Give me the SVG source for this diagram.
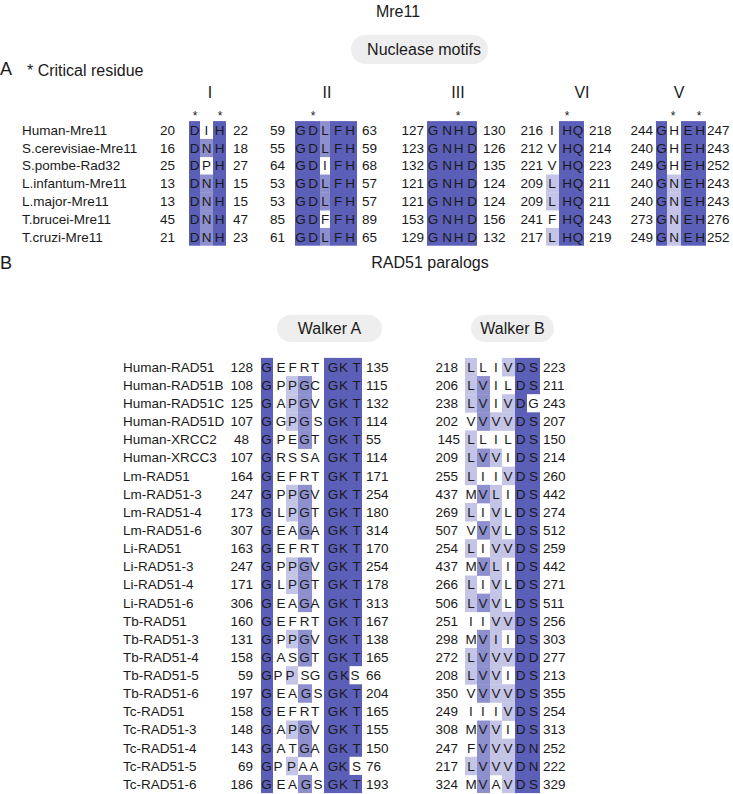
<svg xmlns="http://www.w3.org/2000/svg" width="733" height="794" viewBox="0 0 733 794">
<style>
text{font-family:"Liberation Sans",Arial,sans-serif;fill:#1a1a1a}
.lab{font-size:13.5px}
.n{font-size:13.5px}
.e{text-anchor:end}
.r{font-size:13.5px;text-anchor:middle}
.t{font-size:16px;text-anchor:middle}
.ast{font-size:12px;text-anchor:middle}
.big{font-size:18px}
.d{fill:#5b5fb7}
.m{fill:#8e90ce}
.l{fill:#c4c5e6}
.w{fill:#ffffff}
.pill{fill:#eeeeee}
</style>
<rect width="733" height="794" fill="#ffffff"/>

<g id="title">
<text class="t" x="398" y="17">Mre11</text>
<rect class="pill" x="351" y="35" width="137" height="29" rx="14.5"/>
<text class="t" x="424" y="54.7">Nuclease motifs</text>
<text class="big" x="0" y="75">A</text>
<text style="font-size:16px" x="27" y="76">* Critical residue</text>
</g>

<g id="motif-headers">
<text class="t" x="210" y="97.7">I</text>
<text class="t" x="327" y="97.7">II</text>
<text class="t" x="458" y="97.7">III</text>
<text class="t" x="582" y="97.7">VI</text>
<text class="t" x="679" y="97.7">V</text>
<text class="ast" x="195" y="120">*</text>
<text class="ast" x="220" y="120">*</text>
<text class="ast" x="313" y="120">*</text>
<text class="ast" x="458" y="120">*</text>
<text class="ast" x="567" y="120">*</text>
<text class="ast" x="673" y="120">*</text>
<text class="ast" x="699" y="120">*</text>
</g>

<g id="a-columns">
<rect class="d" x="189" y="121.1" width="11" height="124.6"/>
<rect class="d" x="213" y="121.1" width="13" height="124.6"/>
<rect class="d" x="295" y="121.1" width="25" height="124.6"/>
<rect class="d" x="330" y="121.1" width="27" height="124.6"/>
<rect class="d" x="427" y="121.1" width="50" height="124.6"/>
<rect class="d" x="559" y="121.1" width="25" height="124.6"/>
<rect class="d" x="656" y="121.1" width="11" height="124.6"/>
<rect class="d" x="681" y="121.1" width="25" height="124.6"/>
</g>

<g id="a-human" transform="translate(0,130)">
<rect class="m" x="320" y="-8.9" width="10" height="18.2"/>
<text class="lab" x="22" y="4.8">Human-Mre11</text>
<text class="n e" x="175" y="4.8">20</text><text class="r" x="194.5 200.5 206.5 213 219.5" y="4.8">D I H</text><text class="n" x="233" y="4.8">22</text>
<text class="n e" x="285" y="4.8">59</text><text class="r" x="300.5 307 313 319 325 331.5 338 344 350" y="4.8">G D L F H</text><text class="n" x="362" y="4.8">63</text>
<text class="n e" x="424" y="4.8">127</text><text class="r" x="433 440 447 453 458.5 465 472" y="4.8">G N H D</text><text class="n" x="483" y="4.8">130</text>
<text class="n e" x="543" y="4.8">216</text><text class="r" x="552 559.5 567 572.5 578" y="4.8">I H Q</text><text class="n" x="589" y="4.8">218</text>
<text class="n e" x="653" y="4.8">244</text><text class="r" x="661.5 668 674 681 688 694 700" y="4.8">G H E H</text><text class="n" x="707" y="4.8">247</text>
</g>
<g id="a-scerevisiae" transform="translate(0,147.8)">
<rect class="m" x="200" y="-8.9" width="13" height="18.2"/>
<rect class="m" x="320" y="-8.9" width="10" height="18.2"/>
<text class="lab" x="22" y="4.8">S.cerevisiae-Mre11</text>
<text class="n e" x="175" y="4.8">16</text><text class="r" x="194.5 200.5 206.5 213 219.5" y="4.8">D N H</text><text class="n" x="233" y="4.8">18</text>
<text class="n e" x="285" y="4.8">55</text><text class="r" x="300.5 307 313 319 325 331.5 338 344 350" y="4.8">G D L F H</text><text class="n" x="362" y="4.8">59</text>
<text class="n e" x="424" y="4.8">123</text><text class="r" x="433 440 447 453 458.5 465 472" y="4.8">G N H D</text><text class="n" x="483" y="4.8">126</text>
<text class="n e" x="543" y="4.8">212</text><text class="r" x="552 559.5 567 572.5 578" y="4.8">V H Q</text><text class="n" x="589" y="4.8">214</text>
<text class="n e" x="653" y="4.8">240</text><text class="r" x="661.5 668 674 681 688 694 700" y="4.8">G H E H</text><text class="n" x="707" y="4.8">243</text>
</g>
<g id="a-spombe" transform="translate(0,165.6)">
<text class="lab" x="22" y="4.8">S.pombe-Rad32</text>
<text class="n e" x="175" y="4.8">25</text><text class="r" x="194.5 200.5 206.5 213 219.5" y="4.8">D P H</text><text class="n" x="233" y="4.8">27</text>
<text class="n e" x="285" y="4.8">64</text><text class="r" x="300.5 307 313 319 325 331.5 338 344 350" y="4.8">G D I F H</text><text class="n" x="362" y="4.8">68</text>
<text class="n e" x="424" y="4.8">132</text><text class="r" x="433 440 447 453 458.5 465 472" y="4.8">G N H D</text><text class="n" x="483" y="4.8">135</text>
<text class="n e" x="543" y="4.8">221</text><text class="r" x="552 559.5 567 572.5 578" y="4.8">V H Q</text><text class="n" x="589" y="4.8">223</text>
<text class="n e" x="653" y="4.8">249</text><text class="r" x="661.5 668 674 681 688 694 700" y="4.8">G H E H</text><text class="n" x="707" y="4.8">252</text>
</g>
<g id="a-linfantum" transform="translate(0,183.4)">
<rect class="m" x="200" y="-8.9" width="13" height="18.2"/>
<rect class="m" x="320" y="-8.9" width="10" height="18.2"/>
<rect class="l" x="546" y="-8.9" width="13" height="18.2"/>
<rect class="l" x="667" y="-8.9" width="14" height="18.2"/>
<text class="lab" x="22" y="4.8">L.infantum-Mre11</text>
<text class="n e" x="175" y="4.8">13</text><text class="r" x="194.5 200.5 206.5 213 219.5" y="4.8">D N H</text><text class="n" x="233" y="4.8">15</text>
<text class="n e" x="285" y="4.8">53</text><text class="r" x="300.5 307 313 319 325 331.5 338 344 350" y="4.8">G D L F H</text><text class="n" x="362" y="4.8">57</text>
<text class="n e" x="424" y="4.8">121</text><text class="r" x="433 440 447 453 458.5 465 472" y="4.8">G N H D</text><text class="n" x="483" y="4.8">124</text>
<text class="n e" x="543" y="4.8">209</text><text class="r" x="552 559.5 567 572.5 578" y="4.8">L H Q</text><text class="n" x="589" y="4.8">211</text>
<text class="n e" x="653" y="4.8">240</text><text class="r" x="661.5 668 674 681 688 694 700" y="4.8">G N E H</text><text class="n" x="707" y="4.8">243</text>
</g>
<g id="a-lmajor" transform="translate(0,201.2)">
<rect class="m" x="200" y="-8.9" width="13" height="18.2"/>
<rect class="m" x="320" y="-8.9" width="10" height="18.2"/>
<rect class="l" x="546" y="-8.9" width="13" height="18.2"/>
<rect class="l" x="667" y="-8.9" width="14" height="18.2"/>
<text class="lab" x="22" y="4.8">L.major-Mre11</text>
<text class="n e" x="175" y="4.8">13</text><text class="r" x="194.5 200.5 206.5 213 219.5" y="4.8">D N H</text><text class="n" x="233" y="4.8">15</text>
<text class="n e" x="285" y="4.8">53</text><text class="r" x="300.5 307 313 319 325 331.5 338 344 350" y="4.8">G D L F H</text><text class="n" x="362" y="4.8">57</text>
<text class="n e" x="424" y="4.8">121</text><text class="r" x="433 440 447 453 458.5 465 472" y="4.8">G N H D</text><text class="n" x="483" y="4.8">124</text>
<text class="n e" x="543" y="4.8">209</text><text class="r" x="552 559.5 567 572.5 578" y="4.8">L H Q</text><text class="n" x="589" y="4.8">211</text>
<text class="n e" x="653" y="4.8">240</text><text class="r" x="661.5 668 674 681 688 694 700" y="4.8">G N E H</text><text class="n" x="707" y="4.8">243</text>
</g>
<g id="a-tbrucei" transform="translate(0,219)">
<rect class="m" x="200" y="-8.9" width="13" height="18.2"/>
<rect class="l" x="667" y="-8.9" width="14" height="18.2"/>
<text class="lab" x="22" y="4.8">T.brucei-Mre11</text>
<text class="n e" x="175" y="4.8">45</text><text class="r" x="194.5 200.5 206.5 213 219.5" y="4.8">D N H</text><text class="n" x="233" y="4.8">47</text>
<text class="n e" x="285" y="4.8">85</text><text class="r" x="300.5 307 313 319 325 331.5 338 344 350" y="4.8">G D F F H</text><text class="n" x="362" y="4.8">89</text>
<text class="n e" x="424" y="4.8">153</text><text class="r" x="433 440 447 453 458.5 465 472" y="4.8">G N H D</text><text class="n" x="483" y="4.8">156</text>
<text class="n e" x="543" y="4.8">241</text><text class="r" x="552 559.5 567 572.5 578" y="4.8">F H Q</text><text class="n" x="589" y="4.8">243</text>
<text class="n e" x="653" y="4.8">273</text><text class="r" x="661.5 668 674 681 688 694 700" y="4.8">G N E H</text><text class="n" x="707" y="4.8">276</text>
</g>
<g id="a-tcruzi" transform="translate(0,236.8)">
<rect class="m" x="200" y="-8.9" width="13" height="17.8"/>
<rect class="m" x="320" y="-8.9" width="10" height="17.8"/>
<rect class="l" x="546" y="-8.9" width="13" height="17.8"/>
<rect class="l" x="667" y="-8.9" width="14" height="17.8"/>
<text class="lab" x="22" y="4.8">T.cruzi-Mre11</text>
<text class="n e" x="175" y="4.8">21</text><text class="r" x="194.5 200.5 206.5 213 219.5" y="4.8">D N H</text><text class="n" x="233" y="4.8">23</text>
<text class="n e" x="285" y="4.8">61</text><text class="r" x="300.5 307 313 319 325 331.5 338 344 350" y="4.8">G D L F H</text><text class="n" x="362" y="4.8">65</text>
<text class="n e" x="424" y="4.8">129</text><text class="r" x="433 440 447 453 458.5 465 472" y="4.8">G N H D</text><text class="n" x="483" y="4.8">132</text>
<text class="n e" x="543" y="4.8">217</text><text class="r" x="552 559.5 567 572.5 578" y="4.8">L H Q</text><text class="n" x="589" y="4.8">219</text>
<text class="n e" x="653" y="4.8">249</text><text class="r" x="661.5 668 674 681 688 694 700" y="4.8">G N E H</text><text class="n" x="707" y="4.8">252</text>
</g>

<g id="b-title">
<text class="big" x="0" y="269">B</text>
<text class="t" x="430" y="268">RAD51 paralogs</text>
<rect class="pill" x="277" y="315" width="105" height="27" rx="13.5"/>
<text class="t" x="329.5" y="334.3">Walker A</text>
<rect class="pill" x="471" y="315" width="83" height="27" rx="13.5"/>
<text class="t" x="512.5" y="334.3">Walker B</text>
</g>

<g id="b-columns">
<rect class="d" x="261" y="357.9" width="12" height="435.2"/>
<rect class="d" x="324" y="357.9" width="38" height="435.2"/>
<rect class="d" x="515" y="357.9" width="25" height="435.2"/>
</g>

<g id="b-row-0" transform="translate(0,367)">
<rect class="l" x="465" y="-9.07" width="12" height="18.5"/><rect class="l" x="502" y="-9.07" width="13" height="18.5"/>
<text class="lab" x="123" y="4.8">Human-RAD51</text><text class="n e" x="253" y="4.8">128</text>
<text class="r" x="266.5 274 281 287 292.5 298.5 304.5 310 315 324 333 338 343.5 350 356.5" y="4.8">G E F R T G K T</text><text class="n" x="366" y="4.8">135</text>
<text class="n e" x="458" y="4.8">218</text><text class="r" x="471 477 483 489.5 496 502 508 514 520.5 527 533.5" y="4.8">L L I V D S</text><text class="n" x="543" y="4.8">223</text>
</g>
<g id="b-row-1" transform="translate(0,385.13)">
<rect class="l" x="286" y="-9.07" width="12" height="18.5"/><rect class="m" x="298" y="-9.07" width="14" height="18.5"/>
<rect class="l" x="465" y="-9.07" width="12" height="18.5"/><rect class="m" x="477" y="-9.07" width="13" height="18.5"/>
<text class="lab" x="123" y="4.8">Human-RAD51B</text><text class="n e" x="253" y="4.8">108</text>
<text class="r" x="266.5 274 281 287 292.5 298.5 304.5 310 315 324 333 338 343.5 350 356.5" y="4.8">G P P G C G K T</text><text class="n" x="366" y="4.8">115</text>
<text class="n e" x="458" y="4.8">206</text><text class="r" x="471 477 483 489.5 496 502 508 514 520.5 527 533.5" y="4.8">L V I L D S</text><text class="n" x="543" y="4.8">211</text>
</g>
<g id="b-row-2" transform="translate(0,403.26)">
<rect class="l" x="286" y="-9.07" width="12" height="18.5"/><rect class="m" x="298" y="-9.07" width="14" height="18.5"/>
<rect class="l" x="465" y="-9.07" width="12" height="18.5"/><rect class="m" x="477" y="-9.07" width="13" height="18.5"/><rect class="l" x="502" y="-9.07" width="13" height="18.5"/><rect class="w" x="527" y="-9.07" width="13" height="18.13"/>
<text class="lab" x="123" y="4.8">Human-RAD51C</text><text class="n e" x="253" y="4.8">125</text>
<text class="r" x="266.5 274 281 287 292.5 298.5 304.5 310 315 324 333 338 343.5 350 356.5" y="4.8">G A P G V G K T</text><text class="n" x="366" y="4.8">132</text>
<text class="n e" x="458" y="4.8">238</text><text class="r" x="471 477 483 489.5 496 502 508 514 520.5 527 533.5" y="4.8">L V I V D G</text><text class="n" x="543" y="4.8">243</text>
</g>
<g id="b-row-3" transform="translate(0,421.39)">
<rect class="l" x="286" y="-9.07" width="12" height="18.5"/><rect class="m" x="298" y="-9.07" width="14" height="18.5"/>
<rect class="m" x="477" y="-9.07" width="13" height="18.5"/><rect class="l" x="490" y="-9.07" width="12" height="18.5"/><rect class="l" x="502" y="-9.07" width="13" height="18.5"/>
<text class="lab" x="123" y="4.8">Human-RAD51D</text><text class="n e" x="253" y="4.8">107</text>
<text class="r" x="266.5 274 281 287 292.5 298.5 304.5 310 318 324 333 338 343.5 350 356.5" y="4.8">G G P G S G K T</text><text class="n" x="366" y="4.8">114</text>
<text class="n e" x="458" y="4.8">202</text><text class="r" x="471 477 483 489.5 496 502 508 514 520.5 527 533.5" y="4.8">V V V V D S</text><text class="n" x="543" y="4.8">207</text>
</g>
<g id="b-row-4" transform="translate(0,439.52)">
<rect class="m" x="298" y="-9.07" width="14" height="18.5"/>
<rect class="l" x="465" y="-9.07" width="12" height="18.5"/>
<text class="lab" x="123" y="4.8">Human-XRCC2</text><text class="n e" x="249" y="4.8">48</text>
<text class="r" x="266.5 274 281 287 292.5 298.5 304.5 310 315 324 333 338 343.5 350 356.5" y="4.8">G P E G T G K T</text><text class="n" x="366" y="4.8">55</text>
<text class="n e" x="460" y="4.8">145</text><text class="r" x="471 477 483 489.5 496 502 508 514 520.5 527 533.5" y="4.8">L L I L D S</text><text class="n" x="543" y="4.8">150</text>
</g>
<g id="b-row-5" transform="translate(0,457.65)">
<rect class="l" x="465" y="-9.07" width="12" height="18.5"/><rect class="m" x="477" y="-9.07" width="13" height="18.5"/><rect class="l" x="490" y="-9.07" width="12" height="18.5"/>
<text class="lab" x="123" y="4.8">Human-XRCC3</text><text class="n e" x="253" y="4.8">107</text>
<text class="r" x="266.5 274 281 287 292.5 298.5 304.5 310 315 324 333 338 343.5 350 356.5" y="4.8">G R S S A G K T</text><text class="n" x="366" y="4.8">114</text>
<text class="n e" x="458" y="4.8">209</text><text class="r" x="471 477 483 489.5 496 502 508 514 520.5 527 533.5" y="4.8">L V V I D S</text><text class="n" x="543" y="4.8">214</text>
</g>
<g id="b-row-6" transform="translate(0,475.78)">
<rect class="l" x="465" y="-9.07" width="12" height="18.5"/><rect class="l" x="502" y="-9.07" width="13" height="18.5"/>
<text class="lab" x="123" y="4.8">Lm-RAD51</text><text class="n e" x="253" y="4.8">164</text>
<text class="r" x="266.5 274 281 287 292.5 298.5 304.5 310 315 324 333 338 343.5 350 356.5" y="4.8">G E F R T G K T</text><text class="n" x="366" y="4.8">171</text>
<text class="n e" x="458" y="4.8">255</text><text class="r" x="471 477 483 489.5 496 502 508 514 520.5 527 533.5" y="4.8">L I I V D S</text><text class="n" x="543" y="4.8">260</text>
</g>
<g id="b-row-7" transform="translate(0,493.91)">
<rect class="l" x="286" y="-9.07" width="12" height="18.5"/><rect class="m" x="298" y="-9.07" width="14" height="18.5"/>
<rect class="m" x="477" y="-9.07" width="13" height="18.5"/><rect class="l" x="490" y="-9.07" width="12" height="18.5"/>
<text class="lab" x="123" y="4.8">Lm-RAD51-3</text><text class="n e" x="253" y="4.8">247</text>
<text class="r" x="266.5 274 281 287 292.5 298.5 304.5 310 315 324 333 338 343.5 350 356.5" y="4.8">G P P G V G K T</text><text class="n" x="366" y="4.8">254</text>
<text class="n e" x="458" y="4.8">437</text><text class="r" x="471 477 483 489.5 496 502 508 514 520.5 527 533.5" y="4.8">M V L I D S</text><text class="n" x="543" y="4.8">442</text>
</g>
<g id="b-row-8" transform="translate(0,512.04)">
<rect class="l" x="286" y="-9.07" width="12" height="18.5"/><rect class="m" x="298" y="-9.07" width="14" height="18.5"/>
<rect class="l" x="465" y="-9.07" width="12" height="18.5"/><rect class="l" x="490" y="-9.07" width="12" height="18.5"/>
<text class="lab" x="123" y="4.8">Lm-RAD51-4</text><text class="n e" x="253" y="4.8">173</text>
<text class="r" x="266.5 274 281 287 292.5 298.5 304.5 310 315 324 333 338 343.5 350 356.5" y="4.8">G L P G T G K T</text><text class="n" x="366" y="4.8">180</text>
<text class="n e" x="458" y="4.8">269</text><text class="r" x="471 477 483 489.5 496 502 508 514 520.5 527 533.5" y="4.8">L I V L D S</text><text class="n" x="543" y="4.8">274</text>
</g>
<g id="b-row-9" transform="translate(0,530.17)">
<rect class="m" x="298" y="-9.07" width="14" height="18.5"/>
<rect class="m" x="477" y="-9.07" width="13" height="18.5"/><rect class="l" x="490" y="-9.07" width="12" height="18.5"/>
<text class="lab" x="123" y="4.8">Lm-RAD51-6</text><text class="n e" x="253" y="4.8">307</text>
<text class="r" x="266.5 274 281 287 292.5 298.5 304.5 310 315 324 333 338 343.5 350 356.5" y="4.8">G E A G A G K T</text><text class="n" x="366" y="4.8">314</text>
<text class="n e" x="458" y="4.8">507</text><text class="r" x="471 477 483 489.5 496 502 508 514 520.5 527 533.5" y="4.8">V V V L D S</text><text class="n" x="543" y="4.8">512</text>
</g>
<g id="b-row-10" transform="translate(0,548.3)">
<rect class="l" x="465" y="-9.07" width="12" height="18.5"/><rect class="l" x="490" y="-9.07" width="12" height="18.5"/><rect class="l" x="502" y="-9.07" width="13" height="18.5"/>
<text class="lab" x="123" y="4.8">Li-RAD51</text><text class="n e" x="253" y="4.8">163</text>
<text class="r" x="266.5 274 281 287 292.5 298.5 304.5 310 315 324 333 338 343.5 350 356.5" y="4.8">G E F R T G K T</text><text class="n" x="366" y="4.8">170</text>
<text class="n e" x="458" y="4.8">254</text><text class="r" x="471 477 483 489.5 496 502 508 514 520.5 527 533.5" y="4.8">L I V V D S</text><text class="n" x="543" y="4.8">259</text>
</g>
<g id="b-row-11" transform="translate(0,566.43)">
<rect class="l" x="286" y="-9.07" width="12" height="18.5"/><rect class="m" x="298" y="-9.07" width="14" height="18.5"/>
<rect class="m" x="477" y="-9.07" width="13" height="18.5"/><rect class="l" x="490" y="-9.07" width="12" height="18.5"/>
<text class="lab" x="123" y="4.8">Li-RAD51-3</text><text class="n e" x="253" y="4.8">247</text>
<text class="r" x="266.5 274 281 287 292.5 298.5 304.5 310 315 324 333 338 343.5 350 356.5" y="4.8">G P P G V G K T</text><text class="n" x="366" y="4.8">254</text>
<text class="n e" x="458" y="4.8">437</text><text class="r" x="471 477 483 489.5 496 502 508 514 520.5 527 533.5" y="4.8">M V L I D S</text><text class="n" x="543" y="4.8">442</text>
</g>
<g id="b-row-12" transform="translate(0,584.56)">
<rect class="l" x="286" y="-9.07" width="12" height="18.5"/><rect class="m" x="298" y="-9.07" width="14" height="18.5"/>
<rect class="l" x="465" y="-9.07" width="12" height="18.5"/><rect class="l" x="490" y="-9.07" width="12" height="18.5"/>
<text class="lab" x="123" y="4.8">Li-RAD51-4</text><text class="n e" x="253" y="4.8">171</text>
<text class="r" x="266.5 274 281 287 292.5 298.5 304.5 310 315 324 333 338 343.5 350 356.5" y="4.8">G L P G T G K T</text><text class="n" x="366" y="4.8">178</text>
<text class="n e" x="458" y="4.8">266</text><text class="r" x="471 477 483 489.5 496 502 508 514 520.5 527 533.5" y="4.8">L I V L D S</text><text class="n" x="543" y="4.8">271</text>
</g>
<g id="b-row-13" transform="translate(0,602.69)">
<rect class="m" x="298" y="-9.07" width="14" height="18.5"/>
<rect class="l" x="465" y="-9.07" width="12" height="18.5"/><rect class="m" x="477" y="-9.07" width="13" height="18.5"/><rect class="l" x="490" y="-9.07" width="12" height="18.5"/>
<text class="lab" x="123" y="4.8">Li-RAD51-6</text><text class="n e" x="253" y="4.8">306</text>
<text class="r" x="266.5 274 281 287 292.5 298.5 304.5 310 315 324 333 338 343.5 350 356.5" y="4.8">G E A G A G K T</text><text class="n" x="366" y="4.8">313</text>
<text class="n e" x="458" y="4.8">506</text><text class="r" x="471 477 483 489.5 496 502 508 514 520.5 527 533.5" y="4.8">L V V L D S</text><text class="n" x="543" y="4.8">511</text>
</g>
<g id="b-row-14" transform="translate(0,620.82)">
<rect class="l" x="490" y="-9.07" width="12" height="18.5"/><rect class="l" x="502" y="-9.07" width="13" height="18.5"/>
<text class="lab" x="123" y="4.8">Tb-RAD51</text><text class="n e" x="253" y="4.8">160</text>
<text class="r" x="266.5 274 281 287 292.5 298.5 304.5 310 315 324 333 338 343.5 350 356.5" y="4.8">G E F R T G K T</text><text class="n" x="366" y="4.8">167</text>
<text class="n e" x="458" y="4.8">251</text><text class="r" x="471 477 483 489.5 496 502 508 514 520.5 527 533.5" y="4.8">I I V V D S</text><text class="n" x="543" y="4.8">256</text>
</g>
<g id="b-row-15" transform="translate(0,638.95)">
<rect class="l" x="286" y="-9.07" width="12" height="18.5"/><rect class="m" x="298" y="-9.07" width="14" height="18.5"/>
<rect class="m" x="477" y="-9.07" width="13" height="18.5"/><rect class="l" x="490" y="-9.07" width="12" height="18.5"/>
<text class="lab" x="123" y="4.8">Tb-RAD51-3</text><text class="n e" x="253" y="4.8">131</text>
<text class="r" x="266.5 274 281 287 292.5 298.5 304.5 310 315 324 333 338 343.5 350 356.5" y="4.8">G P P G V G K T</text><text class="n" x="366" y="4.8">138</text>
<text class="n e" x="458" y="4.8">298</text><text class="r" x="471 477 483 489.5 496 502 508 514 520.5 527 533.5" y="4.8">M V I I D S</text><text class="n" x="543" y="4.8">303</text>
</g>
<g id="b-row-16" transform="translate(0,657.08)">
<rect class="m" x="298" y="-9.07" width="14" height="18.5"/>
<rect class="l" x="465" y="-9.07" width="12" height="18.5"/><rect class="m" x="477" y="-9.07" width="13" height="18.5"/><rect class="l" x="490" y="-9.07" width="12" height="18.5"/><rect class="l" x="502" y="-9.07" width="13" height="18.5"/>
<text class="lab" x="123" y="4.8">Tb-RAD51-4</text><text class="n e" x="253" y="4.8">158</text>
<text class="r" x="266.5 274 281 287 292.5 298.5 304.5 310 315 324 333 338 343.5 350 356.5" y="4.8">G A S G T G K T</text><text class="n" x="366" y="4.8">165</text>
<text class="n e" x="458" y="4.8">272</text><text class="r" x="471 477 483 489.5 496 502 508 514 520.5 527 533.5" y="4.8">L V V V D D</text><text class="n" x="543" y="4.8">277</text>
</g>
<g id="b-row-17" transform="translate(0,675.21)">
<rect class="l" x="286" y="-9.07" width="12" height="18.5"/><rect class="w" x="349.5" y="-9.07" width="13" height="18.13"/>
<rect class="l" x="465" y="-9.07" width="12" height="18.5"/><rect class="m" x="477" y="-9.07" width="13" height="18.5"/><rect class="l" x="490" y="-9.07" width="12" height="18.5"/>
<text class="lab" x="123" y="4.8">Tb-RAD51-5</text><text class="n e" x="253" y="4.8">59</text>
<text class="r" x="266.5 272 278 284 290 298.5 305 310 315 324 333 338 344.5 350 355" y="4.8">G P P S G G K S</text><text class="n" x="366" y="4.8">66</text>
<text class="n e" x="458" y="4.8">208</text><text class="r" x="471 477 483 489.5 496 502 508 514 520.5 527 533.5" y="4.8">L V V I D S</text><text class="n" x="543" y="4.8">213</text>
</g>
<g id="b-row-18" transform="translate(0,693.34)">
<rect class="m" x="298" y="-9.07" width="14" height="18.5"/>
<rect class="m" x="477" y="-9.07" width="13" height="18.5"/><rect class="l" x="490" y="-9.07" width="12" height="18.5"/><rect class="l" x="502" y="-9.07" width="13" height="18.5"/>
<text class="lab" x="123" y="4.8">Tb-RAD51-6</text><text class="n e" x="253" y="4.8">197</text>
<text class="r" x="266.5 274 281 287 292.5 298.5 306 312 318 324 333 338 343.5 350 356.5" y="4.8">G E A G S G K T</text><text class="n" x="366" y="4.8">204</text>
<text class="n e" x="458" y="4.8">350</text><text class="r" x="471 477 483 489.5 496 502 508 514 520.5 527 533.5" y="4.8">V V V V D S</text><text class="n" x="543" y="4.8">355</text>
</g>
<g id="b-row-19" transform="translate(0,711.47)">
<rect class="l" x="502" y="-9.07" width="13" height="18.5"/>
<text class="lab" x="123" y="4.8">Tc-RAD51</text><text class="n e" x="253" y="4.8">158</text>
<text class="r" x="266.5 274 281 287 292.5 298.5 304.5 310 315 324 333 338 343.5 350 356.5" y="4.8">G E F R T G K T</text><text class="n" x="366" y="4.8">165</text>
<text class="n e" x="458" y="4.8">249</text><text class="r" x="471 477 483 489.5 496 502 508 514 520.5 527 533.5" y="4.8">I I I V D S</text><text class="n" x="543" y="4.8">254</text>
</g>
<g id="b-row-20" transform="translate(0,729.6)">
<rect class="l" x="286" y="-9.07" width="12" height="18.5"/><rect class="m" x="298" y="-9.07" width="14" height="18.5"/>
<rect class="m" x="477" y="-9.07" width="13" height="18.5"/><rect class="l" x="490" y="-9.07" width="12" height="18.5"/>
<text class="lab" x="123" y="4.8">Tc-RAD51-3</text><text class="n e" x="253" y="4.8">148</text>
<text class="r" x="266.5 274 281 287 292.5 298.5 304.5 310 315 324 333 338 343.5 350 356.5" y="4.8">G A P G V G K T</text><text class="n" x="366" y="4.8">155</text>
<text class="n e" x="458" y="4.8">308</text><text class="r" x="471 477 483 489.5 496 502 508 514 520.5 527 533.5" y="4.8">M V V I D S</text><text class="n" x="543" y="4.8">313</text>
</g>
<g id="b-row-21" transform="translate(0,747.73)">
<rect class="m" x="298" y="-9.07" width="14" height="18.5"/>
<rect class="m" x="477" y="-9.07" width="13" height="18.5"/><rect class="l" x="490" y="-9.07" width="12" height="18.5"/><rect class="l" x="502" y="-9.07" width="13" height="18.5"/>
<text class="lab" x="123" y="4.8">Tc-RAD51-4</text><text class="n e" x="253" y="4.8">143</text>
<text class="r" x="266.5 274 281 287 292.5 298.5 304.5 310 315 324 333 338 343.5 350 356.5" y="4.8">G A T G A G K T</text><text class="n" x="366" y="4.8">150</text>
<text class="n e" x="458" y="4.8">247</text><text class="r" x="471 477 483 489.5 496 502 508 514 520.5 527 533.5" y="4.8">F V V V D N</text><text class="n" x="543" y="4.8">252</text>
</g>
<g id="b-row-22" transform="translate(0,765.86)">
<rect class="l" x="286" y="-9.07" width="12" height="18.5"/><rect class="w" x="349.5" y="-9.07" width="13" height="18.13"/>
<rect class="l" x="465" y="-9.07" width="12" height="18.5"/><rect class="m" x="477" y="-9.07" width="13" height="18.5"/><rect class="l" x="490" y="-9.07" width="12" height="18.5"/><rect class="l" x="502" y="-9.07" width="13" height="18.5"/>
<text class="lab" x="123" y="4.8">Tc-RAD51-5</text><text class="n e" x="253" y="4.8">69</text>
<text class="r" x="266.5 272 278 285 291.5 297 303 309 314 324 333 338 343 350 356.5" y="4.8">G P P A A G K S</text><text class="n" x="366" y="4.8">76</text>
<text class="n e" x="458" y="4.8">217</text><text class="r" x="471 477 483 489.5 496 502 508 514 520.5 527 533.5" y="4.8">L V V V D N</text><text class="n" x="543" y="4.8">222</text>
</g>
<g id="b-row-23" transform="translate(0,783.99)">
<rect class="m" x="298" y="-9.07" width="14" height="18.13"/>
<rect class="m" x="477" y="-9.07" width="13" height="18.13"/><rect class="l" x="502" y="-9.07" width="13" height="18.13"/>
<text class="lab" x="123" y="4.8">Tc-RAD51-6</text><text class="n e" x="253" y="4.8">186</text>
<text class="r" x="266.5 274 281 287 292.5 298.5 306 312 318 324 333 338 343.5 350 356.5" y="4.8">G E A G S G K T</text><text class="n" x="366" y="4.8">193</text>
<text class="n e" x="458" y="4.8">324</text><text class="r" x="471 477 483 489.5 496 502 508 514 520.5 527 533.5" y="4.8">M V A V D S</text><text class="n" x="543" y="4.8">329</text>
</g>
</svg>
